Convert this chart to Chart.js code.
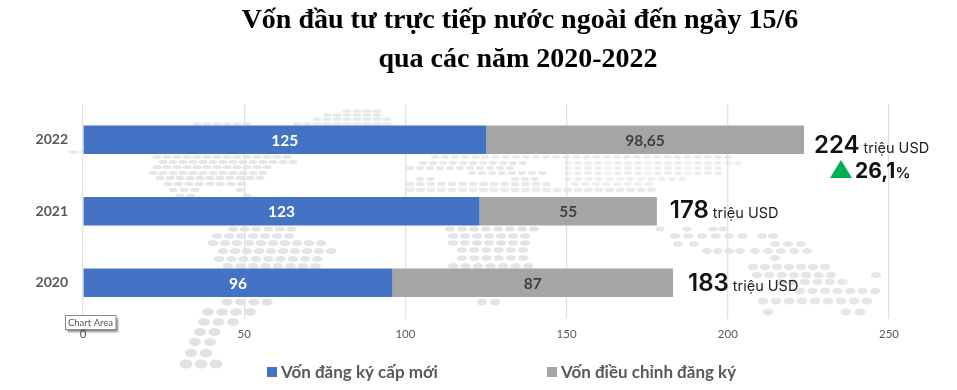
<!DOCTYPE html>
<html>
<head>
<meta charset="utf-8">
<style>
  html, body { margin: 0; padding: 0; background: #fff; }
  #wrap { width: 957px; height: 390px; }
</style>
<script src="https://cdn.jsdelivr.net/npm/chart.js@4"></script>
</head>
<body>
<div id="wrap"><canvas id="fdiChart" width="957" height="390"></canvas></div>
<script>
const titleLines = ['Vốn đầu tư trực tiếp nước ngoài đến ngày 15/6', 'qua các năm 2020-2022'];
const years = ['2022', '2021', '2020'];
const newCapital = [125, 123, 96];
const adjustedCapital = [98.65, 55, 87];
const totals = ['224', '178', '183'];
const unitText = 'triệu USD';
const growthText = '26,1';
const seriesNames = ['Vốn đăng ký cấp mới', 'Vốn điều chỉnh đăng ký'];
const xTicks = [0, 50, 100, 150, 200, 250];

// background world map, only decoration: y, first x, count, pitch, rx, ry, colour
const mapDots = [
  [111, 347, 4, 10, 4.5, 1.8, '#e8e8e8'], [115, 327, 6, 10, 4.5, 1.8, '#e8e8e8'],
  [119, 317, 8, 10, 4.5, 1.8, '#e8e8e8'], [124, 297, 10, 10, 4.5, 1.8, '#e8e8e8'],
  [124, 197, 6, 10, 4.5, 1.8, '#e8e8e8'], [152, 73, 2, 10, 4.5, 1.8, '#e8e8e8'],
  [157, 157, 14, 10, 4.5, 2, '#e6e6e6'], [162, 163, 14, 10, 4.5, 2, '#e6e6e6'],
  [167, 157, 12, 10, 4.5, 2, '#e6e6e6'], [173, 153, 12, 10, 4.5, 2, '#e6e6e6'],
  [178, 160, 11, 10, 4.5, 2.2, '#e6e6e6'], [184, 168, 8, 10.5, 4.5, 2.2, '#e6e6e6'],
  [190, 173, 3, 11, 4.5, 2.2, '#e6e6e6'], [190, 240, 1, 11, 4.5, 2.2, '#e6e6e6'],
  [196, 180, 2, 11, 4.5, 2.2, '#e6e6e6'], [196, 247, 1, 11, 4.5, 2.2, '#e6e6e6'],
  [229, 233, 6, 11.7, 5, 2.6, '#e4e4e4'], [236, 217, 7, 12, 5.2, 2.8, '#e4e4e4'],
  [243, 213, 10, 12, 5.4, 3, '#e4e4e4'], [251, 223, 10, 12, 5.4, 3, '#e4e4e4'],
  [259, 219, 9, 12.3, 5.4, 3, '#e4e4e4'], [266, 228, 8, 12.5, 5.4, 3, '#e4e4e4'],
  [302, 227, 4, 13.4, 5.6, 3.5, '#e2e2e2'], [312, 208, 4, 14, 5.8, 3.8, '#e2e2e2'],
  [322, 204, 3, 14.5, 6, 3.8, '#e2e2e2'], [332, 200, 2, 14.5, 6, 4, '#e2e2e2'],
  [342, 195, 2, 15, 6, 4, '#e2e2e2'], [353, 191, 2, 15, 6.2, 4.2, '#e2e2e2'],
  [364, 186, 3, 15, 6.5, 4.5, '#e2e2e2'],
  [157, 435, 30, 10.1, 4, 2, '#ebebeb'], [163, 423, 11, 10, 4, 2, '#e8e8e8'],
  [163, 568, 18, 10, 4, 2, '#efefef'], [168, 410, 11, 10, 4, 2, '#e8e8e8'],
  [168, 568, 16, 10, 4, 2, '#efefef'], [173, 472, 8, 10, 4, 2, '#e8e8e8'],
  [173, 568, 16, 10, 4, 2, '#efefef'], [179, 420, 2, 10, 4, 2, '#e8e8e8'],
  [179, 515, 3, 10, 4, 2, '#e8e8e8'], [179, 568, 12, 10.4, 4, 2, '#efefef'],
  [184, 410, 14, 10.5, 4.4, 2.2, '#e8e8e8'], [184, 575, 8, 10.5, 4, 2.2, '#efefef'],
  [190, 410, 24, 10.5, 4.6, 2.4, '#ebebeb'],
  [229, 450, 8, 12, 5, 2.6, '#e4e4e4'], [236, 453, 7, 12, 5, 2.8, '#e4e4e4'],
  [243, 453, 7, 12, 5, 2.8, '#e4e4e4'], [250, 462, 6, 12.2, 5, 2.8, '#e4e4e4'],
  [258, 462, 6, 12.2, 5, 2.8, '#e4e4e4'], [266, 453, 7, 12.5, 5.2, 3, '#e4e4e4'],
  [302, 482, 2, 13, 5.2, 3.4, '#e4e4e4'],
  [229, 660, 2, 27, 4.6, 2.5, '#e6e6e6'], [229, 713, 2, 10, 4.6, 2.5, '#e6e6e6'],
  [236, 675, 6, 13.5, 5, 2.8, '#e6e6e6'], [236, 762, 2, 11, 5, 2.8, '#e6e6e6'],
  [244, 678, 2, 16, 5, 2.8, '#e6e6e6'], [251, 707, 4, 11, 5, 3, '#e6e6e6'],
  [244, 775, 3, 13, 5, 3, '#e6e6e6'], [251, 755, 5, 13, 5, 3, '#e6e6e6'],
  [258, 775, 1, 13, 5, 3, '#e6e6e6'], [267, 753, 7, 12, 5.2, 3.2, '#e6e6e6'],
  [275, 757, 7, 12.3, 5.2, 3.2, '#e6e6e6'], [275, 876, 1, 12, 5.2, 3, '#e6e6e6'],
  [282, 780, 6, 12.5, 5.2, 3.2, '#e6e6e6'], [291, 800, 7, 12.5, 5.2, 3.2, '#e6e6e6'],
  [301, 763, 9, 13, 5.4, 3.4, '#e6e6e6'], [312, 768, 1, 13, 5.4, 3.4, '#e6e6e6'],
  [312, 846, 2, 14, 5.4, 3.4, '#e6e6e6']
];

const bodyFont = 'Lato, "Open Sans", sans-serif';
const totalFont = 'Inter, "Open Sans", sans-serif';

// nền bản đồ, vẽ trước lưới và thanh
const mapPlugin = {
  id: 'mapPlugin',
  beforeDraw(chart) {
    const c = chart.ctx;
    c.save();
    mapDots.forEach(function (row) {
      c.fillStyle = row[6];
      for (let i = 0; i < row[2]; i++) {
        c.beginPath();
        c.ellipse(row[1] + i * row[3], row[0], row[4], row[5], 0, 0, Math.PI * 2);
        c.fill();
      }
    });
    c.restore();
  }
};

const labelPlugin = {
  id: 'labelPlugin',
  afterDraw(chart) {
    const c = chart.ctx;
    c.save();

    // title
    c.fillStyle = '#000';
    c.font = 'bold 28px "Liberation Serif", serif';
    c.textAlign = 'center';
    c.textBaseline = 'alphabetic';
    c.fillText(titleLines[0], 520, 28);
    c.fillText(titleLines[1], 518, 67);

    // values inside the bars
    c.font = 'bold 15.5px ' + bodyFont;
    c.textBaseline = 'middle';
    chart.data.datasets.forEach(function (ds, d) {
      c.fillStyle = d === 0 ? '#ffffff' : '#404040';
      chart.getDatasetMeta(d).data.forEach(function (bar, i) {
        const center = bar.getCenterPoint();
        c.fillText(String(ds.data[i]).replace('.', ','), center.x, center.y + 1);
      });
    });

    // totals to the right of each bar
    const endOffsets = [10, 13, 15];
    const baseOffsets = [13.5, 7, 8.5];
    const x = chart.scales.x;
    c.textAlign = 'left';
    c.textBaseline = 'alphabetic';
    totals.forEach(function (t, i) {
      const end = x.getPixelForValue(newCapital[i] + adjustedCapital[i]) + endOffsets[i];
      const base = chart.getDatasetMeta(0).data[i].y + baseOffsets[i];
      c.fillStyle = '#111';
      c.font = '600 24px ' + totalFont;
      c.fillText(t, end, base);
      const w = c.measureText(t).width;
      c.fillStyle = '#222';
      c.font = '400 14.5px ' + totalFont;
      c.fillText(unitText, end + w + 4, base);
    });

    // growth badge under the 2022 total
    c.fillStyle = '#00B050';
    c.beginPath();
    c.moveTo(841, 160);
    c.lineTo(852, 178);
    c.lineTo(830, 178);
    c.closePath();
    c.fill();
    c.fillStyle = '#111';
    c.font = '700 21px ' + totalFont;
    c.fillText(growthText, 855, 178);
    const gw = c.measureText(growthText).width;
    c.font = '600 15px ' + totalFont;
    c.fillText('%', 855 + gw, 178);

    // legend
    const legendX = [267, 547];
    c.font = 'bold 17px ' + bodyFont;
    c.textBaseline = 'middle';
    seriesNames.forEach(function (name, i) {
      c.fillStyle = chart.data.datasets[i].backgroundColor;
      c.fillRect(legendX[i], 367, 10, 10);
      c.fillStyle = '#595959';
      c.fillText(name, legendX[i] + 14, 372.5);
    });

    // Excel hover box left in the screenshot
    c.shadowColor = 'rgba(0,0,0,0.45)';
    c.shadowOffsetX = 2;
    c.shadowOffsetY = 2;
    c.shadowBlur = 2;
    c.fillStyle = '#fff';
    c.fillRect(65, 315.5, 51, 14);
    c.shadowColor = 'transparent';
    c.strokeStyle = '#8a8a8a';
    c.lineWidth = 1;
    c.strokeRect(65.5, 315.5, 50.5, 14);
    c.fillStyle = '#555';
    c.font = '9.5px ' + bodyFont;
    c.textAlign = 'center';
    c.fillText('Chart Area', 90.5, 323);

    c.restore();
  }
};

document.addEventListener('DOMContentLoaded', function () {
  const ctx = document.getElementById('fdiChart').getContext('2d');
  new Chart(ctx, {
    type: 'bar',
    data: {
      labels: years,
      datasets: [
        { label: seriesNames[0], data: newCapital, backgroundColor: '#4472C4', stack: 'a' },
        { label: seriesNames[1], data: adjustedCapital, backgroundColor: '#A5A5A5', stack: 'a' }
      ]
    },
    options: {
      indexAxis: 'y',
      responsive: false,
      animation: false,
      barPercentage: 0.4,
      categoryPercentage: 1,
      layout: { padding: { top: 104, right: 68, bottom: 41.5, left: 0 } },
      plugins: {
        legend: { display: false },
        tooltip: { enabled: false },
        title: { display: false }
      },
      scales: {
        x: {
          stacked: true,
          min: 0,
          max: 250,
          afterBuildTicks(scale) {
            scale.ticks = xTicks.map(function (v) { return { value: v }; });
          },
          afterFit(scale) { scale.height = 30; },
          grid: { color: '#e2e2e2', lineWidth: 1.3, drawTicks: false },
          border: { display: false },
          ticks: { color: '#595959', font: { family: bodyFont, size: 11.5 }, padding: 9, maxRotation: 0 }
        },
        y: {
          stacked: true,
          afterFit(scale) { scale.width = 83; },
          grid: { display: false },
          border: { display: false },
          ticks: { color: '#595959', font: { family: bodyFont, size: 14, weight: 'bold' }, padding: 7 }
        }
      }
    },
    plugins: [mapPlugin, labelPlugin]
  });
});
</script>
</body>
</html>
